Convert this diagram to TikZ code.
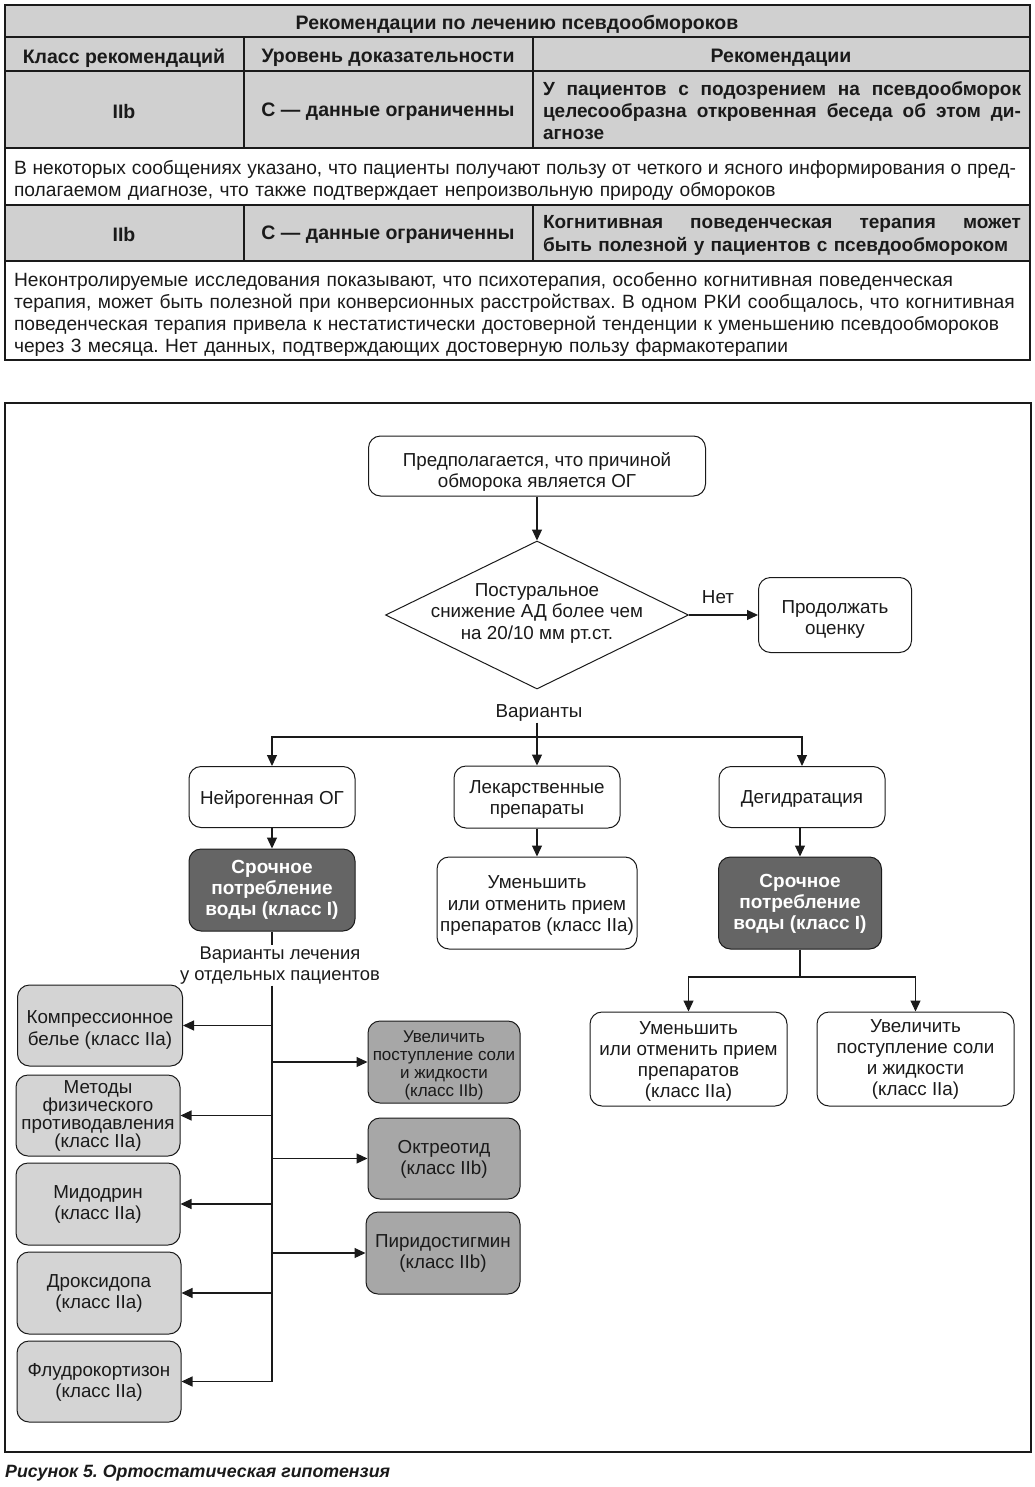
\documentclass[tikz,border=0pt]{standalone}
\usepackage{fontspec}
\setmainfont{Liberation Sans}
\usetikzlibrary{arrows.meta,shapes.geometric}
\definecolor{tgray}{HTML}{D0D0D0}
\definecolor{lgray}{HTML}{D4D4D4}
\definecolor{mgray}{HTML}{A7A7A7}
\definecolor{dgray}{HTML}{656565}
\definecolor{ink}{HTML}{1A1A1A}
\newcommand\jline[2]{\makebox[#1][s]{\spaceskip=0pt\relax\xspaceskip=0pt\relax #2}}
\begin{document}
\frenchspacing
\begin{tikzpicture}[x=1pt,y=-1pt,
  tline/.style={line width=1.3pt, draw=ink},
  ttext/.style={font=\fontsize{19.2}{22}\selectfont\frenchspacing, text=ink, inner sep=0pt},
  tbold/.style={font=\fontsize{19.5}{22}\selectfont\bfseries, text=ink, inner sep=0pt},
  tboldr/.style={font=\fontsize{19}{22}\selectfont\bfseries, text=ink, inner sep=0pt},
  box/.style={draw=ink, line width=1pt, rounded corners=12pt, inner sep=0pt, fill=white},
  lbox/.style={box, fill=lgray},
  mbox/.style={box, fill=mgray},
  dbox/.style={box, fill=dgray},
  dia/.style={draw=ink, line width=1pt, diamond, inner sep=0pt, minimum width=303pt, minimum height=148pt},
  lbl/.style={align=center, inner sep=1pt, text=ink, font=\fontsize{18.8}{21.5}\selectfont},
  lbl4/.style={lbl, font=\fontsize{18.8}{18}\selectfont},
  mlbl/.style={lbl, font=\fontsize{17}{18}\selectfont},
  mlbl2/.style={lbl, font=\fontsize{18.8}{21}\selectfont},
  dlbl/.style={lbl, text=white, font=\fontsize{19}{21}\selectfont\bfseries},
  ln/.style={draw=ink, line width=1.1pt},
  arr/.style={ln, -{Triangle[length=11pt,width=10pt]}}
]
\useasboundingbox (0,0) rectangle (1035,1487);
% ---------- table ----------
\fill[tgray] (5,5) rectangle (1030,148);
\fill[tgray] (5,205) rectangle (1030,261);
\draw[tline] (5,5) rectangle (1030,360);
\draw[tline] (5,37) -- (1030,37);
\draw[tline] (5,71) -- (1030,71);
\draw[tline] (5,148) -- (1030,148);
\draw[tline] (5,205) -- (1030,205);
\draw[tline] (5,261) -- (1030,261);
\draw[tline] (244,37) -- (244,148);
\draw[tline] (533,37) -- (533,148);
\draw[tline] (244,205) -- (244,261);
\draw[tline] (533,205) -- (533,261);
\node[tbold] (t0) at (517,24) {Рекомендации по лечению псевдообмороков};
\node[tbold] (h1) at (124,58) {Класс рекомендаций};
\node[tbold] (h2) at (388,58) {Уровень доказательности};
\node[tbold] (h3) at (781,58) {Рекомендации};
\node[tbold] (r1a) at (124,112) {IIb};
\node[tbold] (r1b) at (388,112) {С — данные ограниченны};
\node[tboldr, text width=478pt, align=left] (r1c) at (782,111)
  {\jline{478pt}{У пациентов с подозрением на псевдообморок}\\
   \jline{478pt}{целесообразна откровенная беседа об этом ди-}\\
   агнозе};
\node[ttext, text width=1002pt, align=left] (r2) at (515,180)
  {\jline{1002pt}{В некоторых сообщениях указано, что пациенты получают пользу от четкого и ясного информирования о пред-}\\
   полагаемом диагнозе, что также подтверждает непроизвольную природу обмороков};
\node[tbold] (r3a) at (124,235) {IIb};
\node[tbold] (r3b) at (388,235) {С — данные ограниченны};
\node[tboldr, text width=478pt, align=left, font=\fontsize{19}{23}\selectfont\bfseries] (r3c) at (782,235)
  {\jline{478pt}{Когнитивная поведенческая терапия может}\\
   быть полезной у пациентов с псевдообмороком};
\node[ttext, text width=1002pt, align=left] (r4) at (515,314)
  {Неконтролируемые исследования показывают, что психотерапия, особенно когнитивная поведенческая\\
   терапия, может быть полезной при конверсионных расстройствах. В одном РКИ сообщалось, что когнитивная\\
   поведенческая терапия привела к нестатистически достоверной тенденции к уменьшению псевдообмороков\\
   через 3 месяца. Нет данных, подтверждающих достоверную пользу фармакотерапии};
% ---------- flowchart frame ----------
\draw[tline] (5,403) rectangle (1031,1452);
% boxes
\node[box, minimum width=337pt, minimum height=60pt] (top) at (537,466) {};
\node[lbl] (top-t) at (537,472) {Предполагается, что причиной\\обморока является ОГ};
\node[dia] (d) at (537,615) {};
\node[lbl] (d-t) at (537,613) {Постуральное\\снижение АД более чем\\на 20/10 мм рт.ст.};
\node[box, minimum width=153pt, minimum height=75pt] (prod) at (835,615) {};
\node[lbl] (prod-t) at (835,619.5) {Продолжать\\оценку};
\node[lbl] (var) at (539,713) {Варианты};
\coordinate (hb) at (537,737);
\node[box, minimum width=166pt, minimum height=61pt] (neiro) at (272,797) {};
\node[lbl] (neiro-t) at (272,799) {Нейрогенная ОГ};
\node[box, minimum width=166pt, minimum height=62pt] (lek) at (537,797) {};
\node[lbl] (lek-t) at (537,799.5) {Лекарственные\\препараты};
\node[box, minimum width=166pt, minimum height=61pt] (degid) at (802,797) {};
\node[lbl] (degid-t) at (802,799) {Дегидратация};
\node[dbox, minimum width=166pt, minimum height=82pt] (dark1) at (272,890) {};
\node[dlbl] (dark1-t) at (272,890) {Срочное\\потребление\\воды (класс I)};
\node[box, minimum width=200pt, minimum height=92pt] (umen1) at (537,903) {};
\node[lbl] (umen1-t) at (537,905.5) {Уменьшить\\или отменить прием\\препаратов (класс IIa)};
\node[dbox, minimum width=163pt, minimum height=92pt] (dark2) at (800,903) {};
\node[dlbl] (dark2-t) at (800,904) {Срочное\\потребление\\воды (класс I)};
\node[lbl, font=\fontsize{18.4}{21.5}\selectfont] (opt) at (280,965.5) {Варианты лечения\\у отдельных пациентов};
\node[lbox, minimum width=165pt, minimum height=81pt] (komp) at (100,1025.5) {};
\node[lbl] (komp-t) at (100,1030) {Компрессионное\\белье (класс IIa)};
\node[lbox, minimum width=164pt, minimum height=81pt] (metod) at (98,1115.5) {};
\node[lbl4] (metod-t) at (98,1115.5) {Методы\\физического\\противодавления\\(класс IIa)};
\node[lbox, minimum width=164pt, minimum height=82pt] (mido) at (98,1204) {};
\node[lbl] (mido-t) at (98,1204.5) {Мидодрин\\(класс IIa)};
\node[lbox, minimum width=164pt, minimum height=82pt] (drok) at (99,1293) {};
\node[lbl] (drok-t) at (99,1293.5) {Дроксидопа\\(класс IIa)};
\node[lbox, minimum width=164pt, minimum height=81pt] (fludro) at (99,1381.5) {};
\node[lbl] (fludro-t) at (99,1382.5) {Флудрокортизон\\(класс IIa)};
\node[mbox, minimum width=152pt, minimum height=82pt] (uvel) at (444,1062) {};
\node[mlbl] (uvel-t) at (444,1065) {Увеличить\\поступление соли\\и жидкости\\(класс IIb)};
\node[mbox, minimum width=152pt, minimum height=81pt] (oktr) at (444,1158.5) {};
\node[mlbl2] (oktr-t) at (444,1159.5) {Октреотид\\(класс IIb)};
\node[mbox, minimum width=154pt, minimum height=82pt] (pirid) at (443,1253) {};
\node[mlbl2] (pirid-t) at (443,1253.5) {Пиридостигмин\\(класс IIb)};
\coordinate (sp) at (800,977);
\node[box, minimum width=197pt, minimum height=94pt] (umen2) at (688.5,1059) {};
\node[mlbl2] (umen2-t) at (688.5,1061.5) {Уменьшить\\или отменить прием\\препаратов\\(класс IIa)};
\node[box, minimum width=197pt, minimum height=94pt] (uvel2) at (915.5,1059) {};
\node[mlbl2] (uvel2-t) at (915.5,1059.5) {Увеличить\\поступление соли\\и жидкости\\(класс IIa)};
% connectors
\draw[arr] (top) -- (d.north);
\draw[arr] (d.east) -- node[lbl, above=10pt, pos=0.42] (net) {Нет} (prod.west);
\draw[ln] (var.south -| hb) -- (hb);
\draw[arr] (hb) -| (neiro.north);
\draw[arr] (hb) -| (degid.north);
\draw[arr] (hb) -- (lek.north);
\draw[arr] (neiro) -- (dark1);
\draw[arr] (lek) -- (umen1);
\draw[arr] (degid.south -| dark2.north) -- (dark2.north);
\draw[ln] (dark1.south) -- (dark1.south |- opt.north);
\draw[ln] (dark1.south |- opt.south) -- (dark1.south |- fludro.east);
\foreach \n in {komp,metod,mido,drok,fludro}
  \draw[arr] (dark1.south |- \n.east) -- (\n.east);
\foreach \n in {uvel,oktr,pirid}
  \draw[arr] (dark1.south |- \n.west) -- (\n.west);
\draw[ln] (dark2) -- (sp);
\draw[arr] (sp) -| (umen2.north);
\draw[arr] (sp) -| (uvel2.north);
% caption
\node[anchor=west, inner sep=0pt, text=ink, font=\fontsize{17.8}{20}\selectfont\bfseries\itshape] (cap) at (5,1473)
  {Рисунок 5. Ортостатическая гипотензия};
\end{tikzpicture}
\end{document}
